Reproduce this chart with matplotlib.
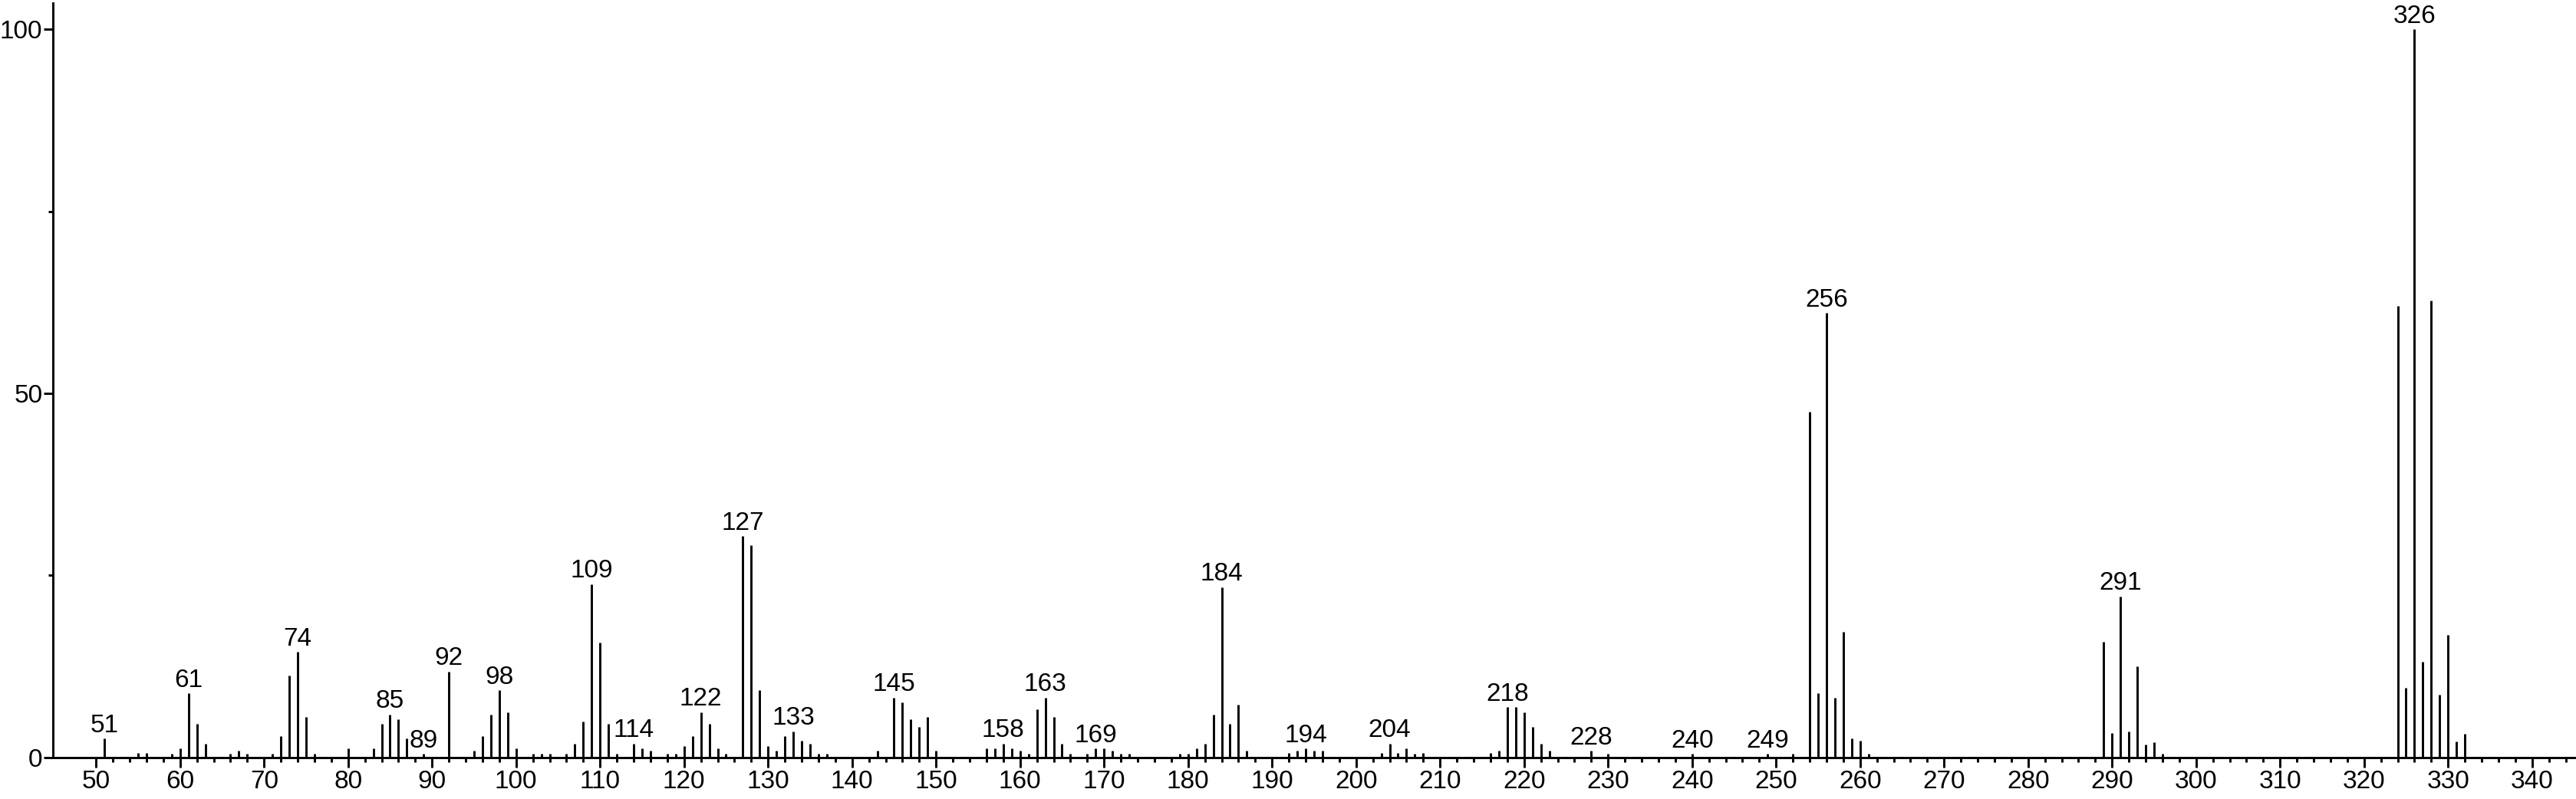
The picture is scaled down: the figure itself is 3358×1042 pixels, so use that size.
import matplotlib
matplotlib.use("Agg")
import matplotlib.pyplot as plt
from matplotlib.ticker import MultipleLocator, FixedLocator

plt.rcParams['font.family'] = ['Liberation Sans', 'DejaVu Sans']

mz = [51, 55, 56, 59, 60, 61, 62, 63, 66, 67, 68, 71, 72, 73, 74, 75, 76,
      80, 83, 84, 85, 86, 87, 89, 92, 95, 96, 97, 98, 99, 100,
      102, 103, 104, 106, 107, 108, 109, 110, 111, 112, 114, 115, 116,
      118, 119, 120, 121, 122, 123, 124, 125, 127, 128, 129, 130, 131,
      132, 133, 134, 135, 136, 137, 143, 145, 146, 147, 148, 149, 150,
      156, 157, 158, 159, 160, 161, 162, 163, 164, 165, 166, 168, 169,
      170, 171, 172, 173, 179, 180, 181, 182, 183, 184, 185, 186, 187,
      192, 193, 194, 195, 196, 203, 204, 205, 206, 207, 208,
      216, 217, 218, 219, 220, 221, 222, 223, 228, 230, 240, 249, 252,
      254, 255, 256, 257, 258, 259, 260, 261,
      289, 290, 291, 292, 293, 294, 295, 296,
      324, 325, 326, 327, 328, 329, 330, 331, 332]
intensity = [2.6, 0.6, 0.6, 0.5, 1.2, 8.8, 4.6, 1.9, 0.5, 0.9, 0.5, 0.5, 2.9, 11.2, 14.5, 5.6, 0.5,
             1.2, 1.2, 4.6, 5.9, 5.2, 2.6, 0.5, 11.8, 0.9, 2.9, 5.9, 9.2, 6.2, 1.2,
             0.5, 0.5, 0.5, 0.5, 1.9, 4.9, 23.8, 15.8, 4.6, 0.5, 1.9, 1.2, 0.9,
             0.5, 0.5, 1.6, 2.9, 6.2, 4.6, 1.2, 0.5, 30.4, 29.1, 9.2, 1.6, 0.9,
             2.9, 3.6, 2.3, 1.9, 0.5, 0.5, 0.9, 8.2, 7.5, 5.2, 4.2, 5.6, 0.9,
             1.2, 1.2, 1.9, 1.2, 0.9, 0.5, 6.6, 8.2, 5.6, 1.9, 0.5, 0.5, 1.2,
             1.2, 0.9, 0.5, 0.5, 0.5, 0.5, 1.2, 1.9, 5.9, 23.4, 4.6, 7.2, 0.9,
             0.6, 0.9, 1.2, 0.95, 0.95, 0.6, 1.9, 0.6, 1.2, 0.5, 0.6,
             0.6, 0.9, 6.9, 6.9, 6.2, 4.2, 1.9, 0.9, 0.9, 0.5, 0.5, 0.5, 0.5,
             47.5, 8.8, 61.0, 8.2, 17.2, 2.6, 2.3, 0.5,
             15.9, 3.3, 22.1, 3.5, 12.5, 1.8, 2.1, 0.5,
             62.0, 9.6, 100.0, 13.1, 62.7, 8.6, 16.8, 2.2, 3.2]
labeled = [51, 61, 74, 85, 89, 92, 98, 109, 114, 122, 127, 133, 145, 158, 163,
           169, 184, 194, 204, 218, 228, 240, 249, 256, 291, 326]
x_major_ticks = list(range(50, 341, 10))
x_minor_ticks = list(range(50, 345, 2))

W, H = 3358, 1042
fig = plt.figure(figsize=(W / 100, H / 100), dpi=100)
x0, x1 = 69.3, 3356.0
yb, yt = 987.7, 4.0
ax = fig.add_axes([x0 / W, (H - yb) / H, (x1 - x0) / W, (yb - yt) / H])

lw = 2.1
ax.vlines(mz, 0, intensity, colors='black', linewidth=lw)

lookup = dict(zip(mz, intensity))
for m in labeled:
    ax.annotate(str(m), xy=(m, lookup[m]), xytext=(0, 1), textcoords='offset points',
                ha='center', va='bottom', fontsize=24, clip_on=False)

ax.set_xlim(44.89, 345.05)
ax.set_ylim(0, 103.6)

for s in ['top', 'right']:
    ax.spines[s].set_visible(False)
for s in ['left', 'bottom']:
    ax.spines[s].set_linewidth(lw)

ax.xaxis.set_major_locator(FixedLocator(x_major_ticks))
ax.xaxis.set_minor_locator(FixedLocator(x_minor_ticks))
ax.yaxis.set_major_locator(MultipleLocator(50))
ax.yaxis.set_minor_locator(MultipleLocator(25))

ax.tick_params(axis='x', which='major', length=9, width=lw, labelsize=24, pad=3, direction='out')
ax.tick_params(axis='x', which='minor', length=4.5, width=lw, direction='out')
ax.tick_params(axis='y', which='major', length=9, width=lw, labelsize=24, pad=1, direction='out')
ax.tick_params(axis='y', which='minor', length=4.5, width=lw, direction='out')

fig.savefig('out.png', dpi=100, facecolor='white')
